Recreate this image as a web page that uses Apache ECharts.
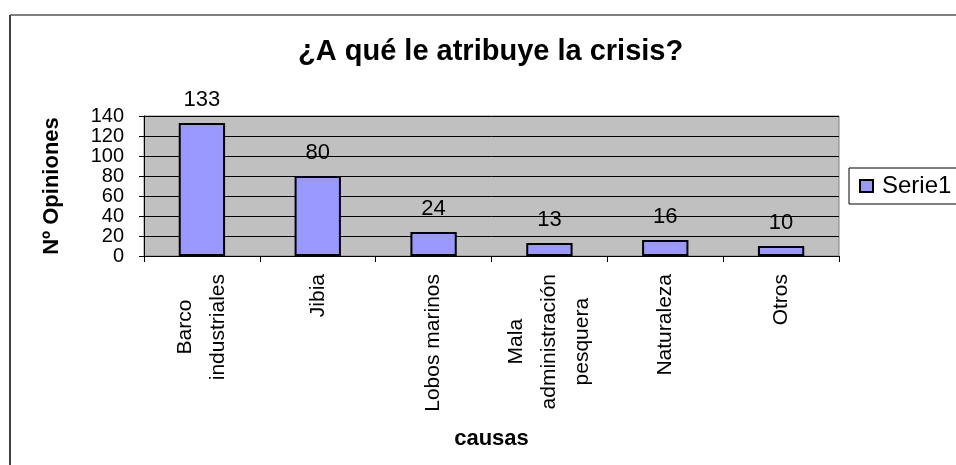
<!DOCTYPE html>
<html>
<head>
<meta charset="utf-8">
<script src="https://cdn.jsdelivr.net/npm/echarts@6/dist/echarts.min.js"></script>
<style>
html, body { margin: 0; padding: 0; background: #fff; }
#chart { width: 956px; height: 465px; }
</style>
</head>
<body>
<div id="chart"></div>
<script>
const causas = ['Barco\nindustriales', 'Jibia', 'Lobos marinos', 'Mala\nadministración\npesquera', 'Naturaleza', 'Otros']
const opiniones = [133, 80, 24, 13, 16, 10]
const yTicks = [0, 20, 40, 60, 80, 100, 120, 140]

const FONT = '"Liberation Sans", Arial, sans-serif'
const LABEL_FONT = '21px ' + FONT
const LABEL_MARGIN = 18

// rotated category labels: lines centred on each other like excel does,
// the axis label can't do that so they are drawn by a custom series
const ctx = document.createElement('canvas').getContext('2d')
ctx.font = LABEL_FONT
const labelWidth = causas.map(c => Math.max(...c.split('\n').map(l => ctx.measureText(l).width)))

let chart = echarts.init(document.getElementById('chart'))

let option = {
    animation: false,
    title: {
        text: '¿A qué le atribuye la crisis?',
        left: 293,
        top: 32,
        textStyle: {
            fontFamily: FONT,
            fontSize: 29,
            fontWeight: 'bold',
            color: '#000'
        }
    },
    legend: {
        orient: 'vertical',
        left: 849,
        top: 168,
        padding: [6, 10, 6, 10],
        borderColor: '#000',
        borderWidth: 1,
        icon: 'rect',
        itemWidth: 13,
        itemHeight: 12,
        textStyle: {
            fontFamily: FONT,
            fontSize: 24,
            color: '#000',
            padding: [0, 0, 0, 4]
        },
        data: ['Serie1']
    },
    grid: {
        left: 144,
        top: 116,
        right: 117,
        bottom: 209,
        show: true,
        backgroundColor: '#C0C0C0',
        borderColor: '#808080',
        borderWidth: 1
    },
    xAxis: {
        type: 'category',
        data: causas,
        name: 'causas',
        nameLocation: 'middle',
        nameGap: 172,
        nameTextStyle: {
            fontFamily: FONT,
            fontSize: 22,
            fontWeight: 'bold',
            color: '#000'
        },
        axisLine: { lineStyle: { color: '#000', width: 1 } },
        axisTick: { show: true, length: 6, lineStyle: { color: '#000' } },
        axisLabel: { show: false }
    },
    yAxis: {
        type: 'value',
        min: yTicks[0],
        max: yTicks[yTicks.length - 1],
        interval: 20,
        name: 'Nº Opiniones',
        nameLocation: 'middle',
        nameRotate: 90,
        nameGap: 81,
        nameTextStyle: {
            fontFamily: FONT,
            fontSize: 22,
            fontWeight: 'bold',
            color: '#000'
        },
        axisLine: { show: true, lineStyle: { color: '#000', width: 1 } },
        axisTick: { show: true, length: 5, lineStyle: { color: '#000' } },
        axisLabel: {
            margin: 20,
            showMinLabel: true,
            showMaxLabel: true,
            hideOverlap: false,
            fontFamily: FONT,
            fontSize: 20,
            color: '#000'
        },
        splitLine: { show: true, lineStyle: { color: '#000', width: 1 } }
    },
    series: [{
        name: 'Serie1',
        type: 'bar',
        barWidth: '40%',
        data: opiniones,
        itemStyle: {
            color: '#9999FF',
            borderColor: '#000',
            borderWidth: 2
        },
        label: {
            show: true,
            position: 'top',
            distance: 12,
            fontFamily: FONT,
            fontSize: 22,
            color: '#000'
        }
    }, {
        name: 'labels',
        type: 'custom',
        silent: true,
        clip: false,
        data: causas.map((c, i) => [i, 0]),
        renderItem: (params, api) => {
            let i = params.dataIndex
            let p = api.coord([i, 0])
            return {
                type: 'text',
                x: p[0],
                y: p[1] + LABEL_MARGIN + labelWidth[i] / 2,
                rotation: Math.PI / 2,
                style: {
                    text: causas[i],
                    font: LABEL_FONT,
                    fill: '#000',
                    align: 'center',
                    verticalAlign: 'middle',
                    lineHeight: 33
                }
            }
        }
    }],
    graphic: [
        { type: 'line', shape: { x1: 10, y1: 15, x2: 956, y2: 15 }, style: { stroke: '#000', lineWidth: 1 } },
        { type: 'line', shape: { x1: 10, y1: 15, x2: 10, y2: 465 }, style: { stroke: '#404040', lineWidth: 2 } }
    ]
}

chart.setOption(option)
</script>
</body>
</html>
